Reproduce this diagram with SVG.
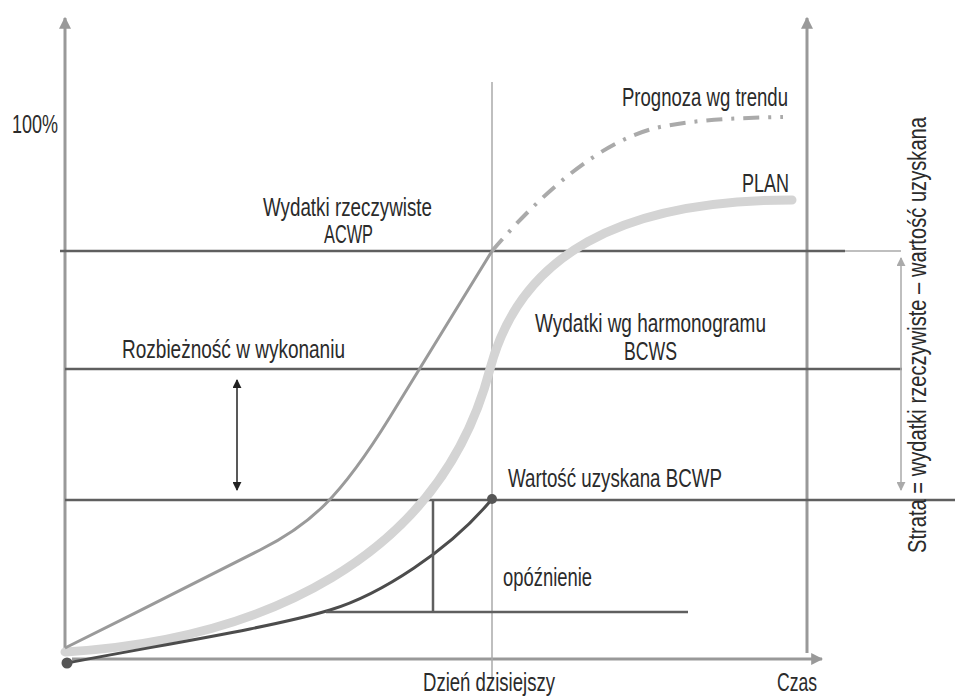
<svg xmlns="http://www.w3.org/2000/svg" width="955" height="698" viewBox="0 0 955 698">
<style>
text{font-family:"Liberation Sans Narrow","Liberation Sans",Arial,sans-serif;font-size:25px;fill:#2b2b2b;}
.axis{stroke:#999;stroke-width:3;fill:none;}
.grid{stroke:#5f5f5f;stroke-width:2.5;fill:none;}
.thin{stroke:#aaa;stroke-width:1.5;fill:none;}
</style>
<defs>
<marker id="axArr" viewBox="0 0 10 10" refX="9" refY="5" markerWidth="4" markerHeight="4" orient="auto-start-reverse" markerUnits="strokeWidth"><path d="M0,0 L10,5 L0,10 z" fill="#999"/></marker>
<marker id="blkArr" viewBox="0 0 10 10" refX="9" refY="5" markerWidth="6" markerHeight="6" orient="auto-start-reverse" markerUnits="strokeWidth"><path d="M0,0 L10,5 L0,10 z" fill="#222"/></marker>
<marker id="lgtArr" viewBox="0 0 10 10" refX="9" refY="5" markerWidth="6" markerHeight="6" orient="auto-start-reverse" markerUnits="strokeWidth"><path d="M0,0 L10,5 L0,10 z" fill="#aaa"/></marker>
</defs>
<g id="axes">
<line class="axis" x1="65" y1="653" x2="65" y2="18" marker-end="url(#axArr)"/>
<line class="axis" x1="807" y1="653" x2="807" y2="18" marker-end="url(#axArr)"/>
<line class="axis" x1="72" y1="659" x2="822" y2="659" marker-end="url(#axArr)"/>
</g>
<g id="gridlines">
<line class="grid" x1="60" y1="251" x2="845" y2="251"/>
<line class="grid" x1="65" y1="369" x2="902" y2="369"/>
<line class="grid" x1="65" y1="500" x2="955" y2="500"/>
<line class="thin" x1="492" y1="82" x2="492" y2="678"/>
</g>
<g id="curves">
<path d="M65,652 C260,640 440,560 490,369 C520,255 620,200 792,200" stroke="#d4d4d4" stroke-width="9" fill="none" stroke-linecap="round"/>
<path d="M65,648 C130,616 200,580 260,550 C310,525 340,498 390,417 C420,368 460,303 492,251" stroke="#9a9a9a" stroke-width="3" fill="none"/>
<path d="M492,251 C540,195 600,140 660,127 C700,119 740,118 783,117" stroke="#aaa" stroke-width="4" fill="none" stroke-dasharray="16 9 3 9"/>
<path d="M67,663 C160,645 270,628 330,610 C380,595 450,550 492,499" stroke="#4c4c4c" stroke-width="3" fill="none"/>
<circle cx="67" cy="663" r="5.5" fill="#555"/>
<circle cx="492" cy="499" r="5" fill="#555"/>
</g>
<g id="connectors">
<line x1="237" y1="380" x2="237" y2="490" stroke="#222" stroke-width="1.5" marker-start="url(#blkArr)" marker-end="url(#blkArr)"/>
<line class="grid" x1="326" y1="612" x2="688" y2="612" stroke-width="2"/>
<line class="grid" x1="433" y1="500" x2="433" y2="612" stroke-width="2"/>
<polyline points="845,251 901,251" stroke="#aaa" stroke-width="1.5" fill="none"/>
<line x1="901" y1="258" x2="901" y2="490" stroke="#aaa" stroke-width="1.5" marker-start="url(#lgtArr)" marker-end="url(#lgtArr)"/>
</g>
<g id="labels">
<text x="12" y="133" textLength="46" lengthAdjust="spacingAndGlyphs">100%</text>
<text x="622" y="106" textLength="166" lengthAdjust="spacingAndGlyphs">Prognoza wg trendu</text>
<text x="742" y="192" textLength="47" lengthAdjust="spacingAndGlyphs">PLAN</text>
<text x="263" y="216" textLength="169" lengthAdjust="spacingAndGlyphs">Wydatki rzeczywiste</text>
<text x="324" y="243" textLength="49" lengthAdjust="spacingAndGlyphs">ACWP</text>
<text x="122" y="358" textLength="223" lengthAdjust="spacingAndGlyphs">Rozbieżność w wykonaniu</text>
<text x="535" y="332" textLength="231" lengthAdjust="spacingAndGlyphs">Wydatki wg harmonogramu</text>
<text x="624" y="360" textLength="53" lengthAdjust="spacingAndGlyphs">BCWS</text>
<text x="508" y="487" textLength="214" lengthAdjust="spacingAndGlyphs">Wartość uzyskana BCWP</text>
<text x="503" y="586" textLength="89" lengthAdjust="spacingAndGlyphs">opóźnienie</text>
<text x="423" y="691" textLength="132" lengthAdjust="spacingAndGlyphs">Dzień dzisiejszy</text>
<text x="777" y="691" textLength="40" lengthAdjust="spacingAndGlyphs">Czas</text>
<text transform="translate(926,553) rotate(-90)" x="0" y="0" textLength="436" lengthAdjust="spacingAndGlyphs">Strata = wydatki rzeczywiste – wartość uzyskana</text>
</g>
</svg>
